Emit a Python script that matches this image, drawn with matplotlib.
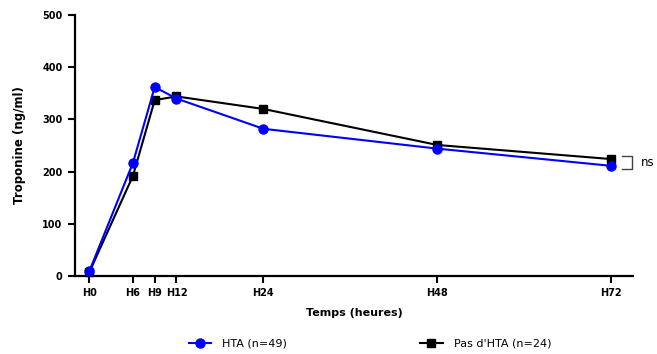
import numpy as np
import matplotlib.pyplot as plt

plt.rcParams['font.family'] = ['DejaVu Sans']

# ── Data ──────────────────────────────────────────────────────────────────────
hours = [0, 6, 9, 12, 24, 48, 72]
tick_labels = ["H0", "H6", "H9", "H12", "H24", "H48", "H72"]
hta = [10, 217, 362, 340, 282, 244, 211]
no_hta = [8, 192, 337, 344, 320, 251, 224]
label_hta = "HTA (n=49)"
label_no_hta = "Pas d'HTA (n=24)"

# ── Figure ────────────────────────────────────────────────────────────────────
fig = plt.figure(figsize=(6.57, 3.54), dpi=100)
ax = fig.add_axes([75 / 657, 1 - 276 / 354, (633 - 75) / 657, (276 - 15) / 354])

ax.plot(hours, no_hta, color="black", marker="s", markersize=6, lw=1.5,
        label=label_no_hta, clip_on=False, zorder=3)
ax.plot(hours, hta, color="#0000ff", marker="o", markersize=6.5, lw=1.5,
        label=label_hta, clip_on=False, zorder=4)

ax.set_xlim(-2, 75)
ax.set_ylim(0, 500)
ax.set_xticks(hours)
ax.set_xticklabels(tick_labels)
ax.set_yticks(range(0, 501, 100))

for s in ["top", "right"]:
    ax.spines[s].set_visible(False)
for s in ["left", "bottom"]:
    ax.spines[s].set_linewidth(1.6)
ax.tick_params(direction="out", length=5, width=1.5, labelsize=7, pad=4)
for lab in ax.get_xticklabels() + ax.get_yticklabels():
    lab.set_fontweight("bold")

ax.set_xlabel("Temps (heures)", fontsize=8, fontweight="bold", labelpad=7)
ax.set_ylabel("Troponine (ng/ml)", fontsize=8.5, fontweight="bold", labelpad=12)

# significance bracket at H72
bx = hours[-1] + 1.5
ytop, ybot = no_hta[-1] + 5, hta[-1] - 6
ax.plot([bx, bx + 1.3, bx + 1.3, bx], [ytop, ytop, ybot, ybot],
        color="#444444", lw=1.0, clip_on=False)
ax.text(bx + 2.6, (ytop + ybot) / 2, "ns", fontsize=8.5, va="center",
        ha="left", clip_on=False)

h, l = ax.get_legend_handles_labels()
fig.legend(h[::-1], l[::-1], loc="center", bbox_to_anchor=(370 / 657, 1 - 344 / 354),
           ncol=2, frameon=False, fontsize=8, handlelength=2.0,
           columnspacing=12, handletextpad=1.0)

plt.savefig("out.png", dpi=100)
